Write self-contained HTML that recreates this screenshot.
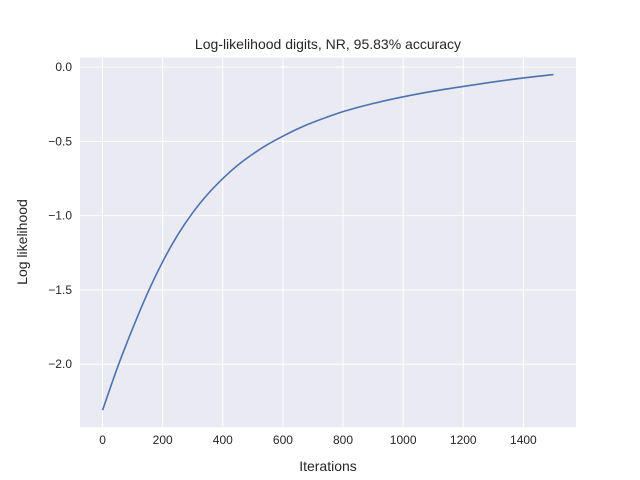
<!DOCTYPE html>
<html><head><meta charset="utf-8"><style>
body{margin:0;background:#fff;}
svg{display:block;font-family:"Liberation Sans","DejaVu Sans",sans-serif;}
</style></head><body>
<svg id="chart" width="640" height="480" xmlns="http://www.w3.org/2000/svg">
<rect x="0" y="0" width="640" height="480" fill="#fff"/>
<rect x="80" y="57.6" width="496" height="369.6" fill="#eaeaf2"/>
<g id="grid"></g>
<g id="ticks"></g>
<path id="line" fill="none" stroke="#4c72b0" stroke-width="1.6"/>
<text x="328" y="49" text-anchor="middle" font-size="14" fill="#262626">Log-likelihood digits, NR, 95.83% accuracy</text>
<text x="328" y="471" text-anchor="middle" font-size="14" fill="#262626">Iterations</text>
<text transform="translate(27,242) rotate(-90)" text-anchor="middle" font-size="14" fill="#262626">Log likelihood</text>
</svg>
<script>
const iterations=[0,50,100,150,200,250,300,350,400,450,500,550,600,650,700,800,900,1000,1100,1200,1300,1400,1500];
const logLik=[-2.31,-2.02,-1.76,-1.52,-1.31,-1.13,-0.98,-0.855,-0.75,-0.66,-0.585,-0.52,-0.465,-0.415,-0.372,-0.30,-0.245,-0.2,-0.162,-0.13,-0.1,-0.073,-0.05];
const xTicks=[0,200,400,600,800,1000,1200,1400];
const yTicks=[0,-0.5,-1,-1.5,-2];
const yTickLabels=["0.0","\u22120.5","\u22121.0","\u22121.5","\u22122.0"];
const L=80,R=576,T=57.6,B=427.2;
const xmin=-75,xmax=1575,ymin=-2.424,ymax=0.064;
const sx=v=>L+(v-xmin)/(xmax-xmin)*(R-L);
const sy=v=>B-(v-ymin)/(ymax-ymin)*(B-T);
const NS="http://www.w3.org/2000/svg";
const grid=document.getElementById('grid'),ticks=document.getElementById('ticks');
xTicks.forEach(t=>{
 const l=document.createElementNS(NS,'line');
 
 
 l.setAttribute('x1',sx(t));l.setAttribute('x2',sx(t));l.setAttribute('y1',T);l.setAttribute('y2',B);
 l.setAttribute('stroke','#fff');l.setAttribute('stroke-width','1');grid.appendChild(l);
 const tx=document.createElementNS(NS,'text');
 
 
 tx.setAttribute('x',sx(t));tx.setAttribute('y',B+17);tx.setAttribute('text-anchor','middle');
 tx.setAttribute('font-size','12');tx.setAttribute('fill','#262626');tx.textContent=t;ticks.appendChild(tx);
});
yTicks.forEach((t,i)=>{
 const l=document.createElementNS(NS,'line');
 
 
 l.setAttribute('x1',L);l.setAttribute('x2',R);l.setAttribute('y1',sy(t));l.setAttribute('y2',sy(t));
 l.setAttribute('stroke','#fff');l.setAttribute('stroke-width','1');grid.appendChild(l);
 const tx=document.createElementNS(NS,'text');
 
 
 tx.setAttribute('x',L-8);tx.setAttribute('y',sy(t)+4);tx.setAttribute('text-anchor','end');
 tx.setAttribute('font-size','12');tx.setAttribute('fill','#262626');tx.textContent=yTickLabels[i];ticks.appendChild(tx);
});
const pts=iterations.map((x,i)=>[sx(x),sy(logLik[i])]);
let d='M'+pts[0][0]+','+pts[0][1];
for(let i=0;i<pts.length-1;i++){
 const p0=pts[Math.max(0,i-1)],p1=pts[i],p2=pts[i+1],p3=pts[Math.min(pts.length-1,i+2)];
 const c1=[p1[0]+(p2[0]-p0[0])/6,p1[1]+(p2[1]-p0[1])/6];
 const c2=[p2[0]-(p3[0]-p1[0])/6,p2[1]-(p3[1]-p1[1])/6];
 d+=' C'+c1+' '+c2+' '+p2;
}
document.getElementById('line').setAttribute('d',d);
</script>
</body></html>
